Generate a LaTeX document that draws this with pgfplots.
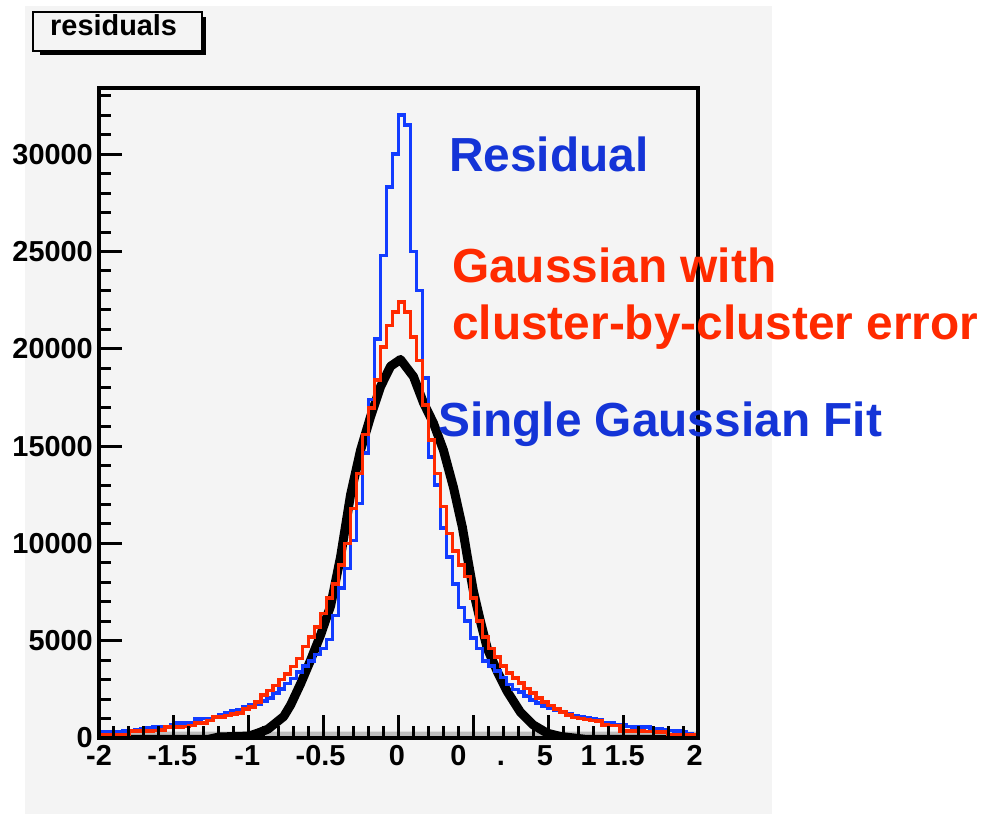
\documentclass[border=0pt]{standalone}
\usepackage{pgfplots}
\usepackage{pgfplotstable}
\pgfplotsset{compat=1.18}
\usepackage{fontspec}
\setmainfont{Liberation Sans}
\definecolor{bgc}{HTML}{F4F4F4}
\definecolor{hblue}{RGB}{18,60,255}
\definecolor{tblue}{RGB}{20,52,215}
\definecolor{hred}{RGB}{255,42,0}
\definecolor{band}{HTML}{BDBDBD}

\pgfplotstableread{
x blue red
-2.00 300 150
-1.96 300 150
-1.92 300 150
-1.88 300 150
-1.84 350 150
-1.80 380 360
-1.76 420 360
-1.72 460 360
-1.68 520 360
-1.64 570 380
-1.60 570 400
-1.56 600 570
-1.52 680 570
-1.48 780 570
-1.44 780 600
-1.40 800 650
-1.36 980 780
-1.32 1000 780
-1.28 1000 900
-1.24 1100 1090
-1.20 1200 1090
-1.16 1300 1150
-1.12 1400 1240
-1.08 1450 1300
-1.04 1600 1500
-1.00 1700 1600
-0.96 1760 1860
-0.92 1900 2200
-0.88 2050 2450
-0.84 2300 2700
-0.80 2530 3000
-0.76 2800 3300
-0.72 3050 3670
-0.68 3400 4090
-0.64 3700 4700
-0.60 3950 5200
-0.56 4300 5700
-0.52 4600 6400
-0.48 5070 7200
-0.44 6300 7900
-0.40 7700 8900
-0.36 8700 10000
-0.32 10140 11800
-0.28 12050 13600
-0.24 14640 15600
-0.20 17400 16960
-0.16 20500 18400
-0.12 24800 20100
-0.08 28300 21200
-0.04 30000 21880
0.00 32000 22400
0.04 31500 21900
0.08 25000 20600
0.12 23000 19400
0.16 18500 17100
0.20 14430 15300
0.24 13000 13600
0.28 10800 11900
0.32 9300 10500
0.36 7900 9600
0.40 6700 8900
0.44 6000 8300
0.48 5150 7200
0.52 4600 6000
0.56 3950 5200
0.60 3700 4600
0.64 3450 4150
0.68 3100 3700
0.72 2750 3350
0.76 2500 3080
0.80 2350 2820
0.84 2150 2550
0.88 1950 2300
0.92 1800 2050
0.96 1650 1850
1.00 1550 1680
1.04 1450 1500
1.08 1350 1350
1.12 1250 1180
1.16 1150 1050
1.20 1080 1000
1.24 1020 950
1.28 1000 900
1.32 950 880
1.36 800 660
1.40 780 650
1.44 700 640
1.48 660 360
1.52 600 350
1.56 580 350
1.60 570 350
1.64 560 340
1.68 480 330
1.72 450 320
1.76 420 310
1.80 380 160
1.84 350 160
1.88 340 160
1.92 200 150
1.96 180 150
2.00 180 150
}\hist

\begin{document}
\begin{tikzpicture}
\path[use as bounding box] (0bp,0bp) rectangle (986bp,814bp);
\fill[white] (0bp,0bp) rectangle (986bp,814bp);
\fill[bgc] (25bp,0bp) rectangle (772bp,808bp);
% title box with shadow
\fill[black] (40bp,759bp) rectangle (206bp,797bp);
\filldraw[fill=bgc, draw=black, line width=2.5bp] (33bp,763bp) rectangle (202bp,802bp);
\node[anchor=base west, inner sep=0pt, font=\fontsize{29}{29}\selectfont\bfseries] at (50bp,778bp) {residuals};

\begin{axis}[
  at={(99bp,76bp)}, anchor=south west, scale only axis,
  width=599bp, height=650bp,
  xmin=-2, xmax=2, ymin=0, ymax=33400,
  scaled y ticks=false, scaled x ticks=false,
  axis on top,
  axis line style={line width=3.5bp},
  xtick={-2,-1.51,-1.01,-0.52,-0.01,0.4,0.683,0.977,1.27,1.51,1.977},
  xticklabels={-2,-1.5,-1,-0.5,0,0,.,5,1,1.5,2},
  ytick={0,5000,...,30000},
  yticklabels={0,5000,10000,15000,20000,25000,30000},
  xtick pos=bottom, ytick pos=left,
  major tick length=0pt, minor tick length=0pt,
  tick style={draw=none},
  xticklabel style={font=\fontsize{29}{29}\selectfont\bfseries, inner sep=0pt,
    anchor=north, yshift=-6bp, text height=21bp, text depth=0pt},
  yticklabel style={font=\fontsize{29}{29}\selectfont\bfseries, inner sep=0pt,
    anchor=east, xshift=-6bp},
  unbounded coords=jump,
]
\addplot[fill=band, draw=none] coordinates {(-2,0) (2,0) (2,330) (-2,330)} \closedcycle;
\addplot[black, line width=9bp, line join=round, line cap=round] coordinates {
(-2.0,-70) (-1.27,-70) (-1.2,50) (-1.0,100) (-0.94,250) (-0.873,450) (-0.853,570)
(-0.767,1100) (-0.72,1700) (-0.653,2800) (-0.587,4000) (-0.52,5300) (-0.453,6800)
(-0.387,9300) (-0.32,12500) (-0.253,14800) (-0.187,16500) (-0.12,18050) (-0.053,19100)
(0.013,19450) (0.1,18570) (0.167,17220) (0.233,16190) (0.3,14790) (0.367,12880)
(0.427,10810) (0.46,9300) (0.5,7550) (0.547,6000) (0.593,4600) (0.66,3410)
(0.727,2380) (0.813,1340) (0.9,670) (0.993,250) (1.08,80) (1.25,-70) (2.0,-70)};
\addplot[hblue, line width=3.6bp, const plot mark left] table[x=x, y=blue] {\hist};
\addplot[hred, line width=3.6bp, const plot mark left] table[x=x, y=red] {\hist};
% x axis ticks: minor (0.1) and major (0.5)
\addplot[ycomb, black, line width=3bp, mark=none] coordinates {
(-1.9,617) (-1.8,617) (-1.7,617) (-1.6,617) (-1.4,617) (-1.3,617) (-1.2,617) (-1.1,617)
(-0.9,617) (-0.8,617) (-0.7,617) (-0.6,617) (-0.4,617) (-0.3,617) (-0.2,617) (-0.1,617)
(0.1,617) (0.2,617) (0.3,617) (0.4,617) (0.6,617) (0.7,617) (0.8,617) (0.9,617)
(1.1,617) (1.2,617) (1.3,617) (1.4,617) (1.6,617) (1.7,617) (1.8,617) (1.9,617)};
\addplot[ycomb, black, line width=3bp, mark=none] coordinates {
(-1.5,1182) (-1,1182) (-0.5,1182) (0,1182) (0.5,1182) (1,1182) (1.5,1182)};
% y axis ticks: minor (1000) and major (5000)
\addplot[black, line width=3bp, mark=none] coordinates {
(-2,1000) (-1.92,1000) (-2,nan) (-2,2000) (-1.92,2000) (-2,nan)
(-2,3000) (-1.92,3000) (-2,nan) (-2,4000) (-1.92,4000) (-2,nan)
(-2,5000) (-1.846,5000) (-2,nan)
(-2,6000) (-1.92,6000) (-2,nan) (-2,7000) (-1.92,7000) (-2,nan)
(-2,8000) (-1.92,8000) (-2,nan) (-2,9000) (-1.92,9000) (-2,nan)
(-2,10000) (-1.846,10000) (-2,nan)
(-2,11000) (-1.92,11000) (-2,nan) (-2,12000) (-1.92,12000) (-2,nan)
(-2,13000) (-1.92,13000) (-2,nan) (-2,14000) (-1.92,14000) (-2,nan)
(-2,15000) (-1.846,15000) (-2,nan)
(-2,16000) (-1.92,16000) (-2,nan) (-2,17000) (-1.92,17000) (-2,nan)
(-2,18000) (-1.92,18000) (-2,nan) (-2,19000) (-1.92,19000) (-2,nan)
(-2,20000) (-1.846,20000) (-2,nan)
(-2,21000) (-1.92,21000) (-2,nan) (-2,22000) (-1.92,22000) (-2,nan)
(-2,23000) (-1.92,23000) (-2,nan) (-2,24000) (-1.92,24000) (-2,nan)
(-2,25000) (-1.846,25000) (-2,nan)
(-2,26000) (-1.92,26000) (-2,nan) (-2,27000) (-1.92,27000) (-2,nan)
(-2,28000) (-1.92,28000) (-2,nan) (-2,29000) (-1.92,29000) (-2,nan)
(-2,30000) (-1.846,30000) (-2,nan)
(-2,31000) (-1.92,31000) (-2,nan) (-2,32000) (-1.92,32000) (-2,nan)
(-2,33000) (-1.92,33000)};
\end{axis}

\node[anchor=base west, inner sep=0pt, text=tblue, font=\fontsize{48}{48}\selectfont\bfseries] at (449bp,642bp) {Residual};
\node[anchor=base west, inner sep=0pt, text=hred, font=\fontsize{48}{48}\selectfont\bfseries] at (452bp,531bp) {Gaussian with};
\node[anchor=base west, inner sep=0pt, text=hred, font=\fontsize{48}{48}\selectfont\bfseries] at (452bp,474bp) {cluster-by-cluster error};
\node[anchor=base west, inner sep=0pt, text=tblue, font=\fontsize{48}{48}\selectfont\bfseries] at (438bp,377bp) {Single Gaussian Fit};
\end{tikzpicture}
\end{document}
